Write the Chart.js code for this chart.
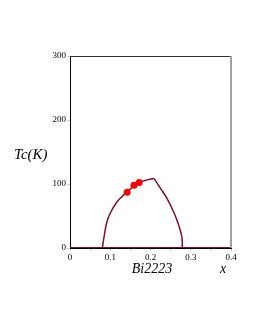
<!DOCTYPE html>
<html>
<head>
<meta charset="utf-8">
<script src="https://cdn.jsdelivr.net/npm/chart.js@4"></script>
<style>
  html, body { margin: 0; padding: 0; background: #fff; }
  canvas { display: block; }
</style>
</head>
<body>
<canvas id="tcChart" width="255" height="330"></canvas>
<script>
// Tc(x) dome for Bi2223
// rising branch up to the peak
const riseX = [0.0805, 0.0855, 0.092, 0.102, 0.1145, 0.127, 0.142, 0.159, 0.172, 0.186, 0.199, 0.209];
const riseTc = [0, 21, 41.5, 57, 70, 79, 87.5, 97.5, 102.5, 105.5, 107.5, 108.5];
// falling branch, ends with a vertical drop
const fallX = [0.209, 0.224, 0.2405, 0.257, 0.270, 0.278];
const fallTc = [108.5, 94, 78, 57, 36, 18];
const dropX = [0.278, 0.279, 0.279];
const dropTc = [18, 8, 0];
// Tc = 0 outside the dome
const baseX = [0, 0.4];
const baseTc = [0, 0];

// measured points
const dotX = [0.142, 0.159, 0.172];
const dotTc = [87, 98, 102.5];

const xTicks = [0, 0.1, 0.2, 0.3, 0.4];
const yTicks = [0, 100, 200, 300];

const serif = "'Liberation Serif', 'DejaVu Serif', serif";
const lineColor = "#7d1226";

const toPoints = (xs, ys) => xs.map((x, i) => ({ x: x, y: ys[i] }));

// Labels and frame
const framePlugin = {
    id: "frame",
    afterDraw(chart) {
        const ctx = chart.ctx;
        const a = chart.chartArea;
        ctx.save();
        ctx.strokeStyle = "#333";
        ctx.lineWidth = 1;
        ctx.beginPath();
        ctx.moveTo(a.left, a.top + 0.5);
        ctx.lineTo(a.right, a.top + 0.5);
        ctx.stroke();
        ctx.strokeStyle = "#a0a0a0";
        ctx.lineWidth = 2;
        ctx.beginPath();
        ctx.moveTo(a.right, a.top);
        ctx.lineTo(a.right, a.bottom);
        ctx.stroke();

        ctx.fillStyle = "#000";
        ctx.font = "italic 15px " + serif;
        ctx.textBaseline = "middle";
        ctx.textAlign = "left";
        ctx.fillText("Tc(K)", 14, 155);
        ctx.font = "italic 14px " + serif;
        ctx.textAlign = "center";
        ctx.fillText("Bi2223", 152, 269);
        ctx.fillText("x", 223, 269);
        ctx.restore();
    }
};

const ctx = document.getElementById("tcChart").getContext("2d");

new Chart(ctx, {
    type: "scatter",
    data: {
        datasets: [{
            data: toPoints(dotX, dotTc),
            showLine: false,
            pointRadius: 3.5,
            pointBackgroundColor: "#ff0000",
            pointBorderColor: "#ff0000",
            pointBorderWidth: 0
        }, {
            data: toPoints(riseX, riseTc),
            showLine: true,
            borderColor: lineColor,
            borderWidth: 1.5,
            tension: 0.4,
            pointRadius: 0
        }, {
            data: toPoints(fallX, fallTc),
            showLine: true,
            borderColor: lineColor,
            borderWidth: 1.5,
            tension: 0.4,
            pointRadius: 0
        }, {
            data: toPoints(dropX, dropTc),
            showLine: true,
            borderColor: lineColor,
            borderWidth: 1.5,
            pointRadius: 0
        }, {
            data: toPoints(baseX, baseTc),
            showLine: true,
            borderColor: lineColor,
            borderWidth: 2,
            pointRadius: 0
        }]
    },
    options: {
        responsive: false,
        animation: false,
        layout: {
            padding: { left: 0, right: 24, top: 56, bottom: 0 }
        },
        plugins: {
            legend: { display: false },
            tooltip: { enabled: false }
        },
        scales: {
            x: {
                type: "linear",
                min: 0,
                max: 0.4,
                afterFit: (s) => { s.height = 82; },
                afterBuildTicks: (s) => {
                    s.ticks = [0, 0.05, 0.1, 0.15, 0.2, 0.25, 0.3, 0.35, 0.4].map(v => ({ value: v }));
                },
                border: { color: "#000", width: 1 },
                grid: {
                    drawOnChartArea: false,
                    tickLength: 3,
                    tickColor: "#c8c8c8"
                },
                ticks: {
                    color: "#000",
                    padding: 1,
                    maxRotation: 0,
                    font: { family: serif, size: 9 },
                    callback: (v) => {
                        const t = xTicks.find(k => Math.abs(k - v) < 1e-6);
                        return t === undefined ? "" : String(t);
                    }
                }
            },
            y: {
                min: 0,
                max: 300,
                afterFit: (s) => { s.width = 70; },
                afterBuildTicks: (s) => {
                    s.ticks = yTicks.map(v => ({ value: v }));
                },
                border: { color: "#000", width: 1 },
                grid: {
                    drawOnChartArea: false,
                    tickLength: 3,
                    tickColor: "#c8c8c8"
                },
                ticks: {
                    color: "#000",
                    padding: 1,
                    font: { family: serif, size: 9 }
                }
            }
        }
    },
    plugins: [framePlugin]
});
</script>
</body>
</html>
